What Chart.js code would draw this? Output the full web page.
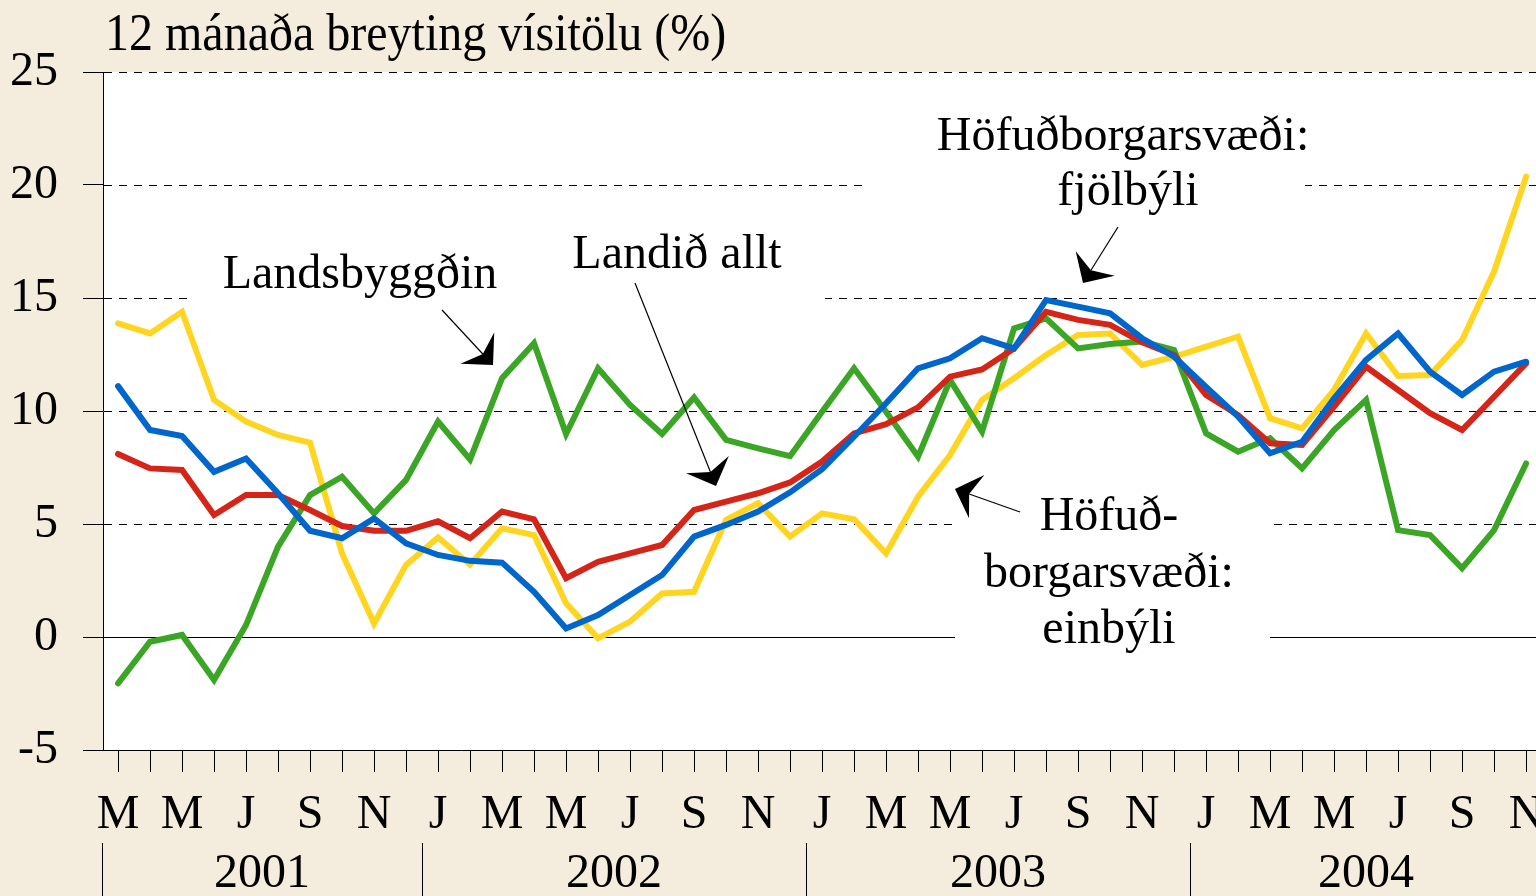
<!DOCTYPE html>
<html>
<head>
<meta charset="utf-8">
<script src="https://cdn.jsdelivr.net/npm/chart.js@4/dist/chart.umd.min.js"></script>
<style>
  html, body { margin: 0; padding: 0; background: #f4ecdc; }
  #wrap { width: 1536px; height: 896px; }
</style>
</head>
<body>
<div id="wrap"><canvas id="chart" width="1536" height="896"></canvas></div>
<script>
// Mar 2001 .. Nov 2004, one value per month
const xLabels = ['M','','M','','J','','S','','N','',
                 'J','','M','','M','','J','','S','','N','',
                 'J','','M','','M','','J','','S','','N','',
                 'J','','M','','M','','J','','S','','N'];
const years      = ['2001', '2002', '2003', '2004'];
const yearStart  = [0, 10, 22, 34];
const yearEnd    = [9, 21, 33, 44];
const yTicks     = [-5, 0, 5, 10, 15, 20, 25];

const fjolbyli = [11.1, 9.16, 8.89, 7.31, 7.9, 6.36, 4.7, 4.37, 5.25, 4.14,
                  3.63, 3.37, 3.29, 2.0, 0.38, 0.97, 1.86, 2.74, 4.44, 4.96, 5.55, 6.4,
                  7.42, 8.86, 10.34, 11.89, 12.33, 13.22, 12.77, 14.91, 14.62, 14.32, 13.22, 12.4,
                  11.07, 9.75, 8.13, 8.64, 10.56, 12.26, 13.43, 11.74, 10.71, 11.74, 12.18];
const landidAllt = [8.1, 7.46, 7.39, 5.4, 6.28, 6.28, 5.62, 4.91, 4.7, 4.7,
                  5.12, 4.37, 5.55, 5.21, 2.6, 3.33, 3.7, 4.07, 5.62, 5.99, 6.36, 6.84,
                  7.76, 9.01, 9.42, 10.16, 11.52, 11.84, 12.77, 14.39, 14.03, 13.81, 13.04, 12.48,
                  10.71, 9.82, 8.57, 8.5, 10.19, 11.96, 10.93, 9.9, 9.16, 10.63, 12.11];
const landsbyggdin = [-2.05, -0.21, 0.09, -1.9, 0.53, 4.0, 6.28, 7.09, 5.47, 6.95,
                  9.53, 7.86, 11.45, 13.0, 8.98, 11.89, 10.27, 8.98, 10.6, 8.72, 8.35, 8.0,
                  9.97, 11.89, 9.97, 7.98, 11.37, 9.09, 13.66, 14.1, 12.77, 12.96, 13.07, 12.7,
                  9.01, 8.2, 8.79, 7.46, 9.16, 10.49, 4.73, 4.51, 3.04, 4.73, 7.68];
const einbyli = [13.88, 13.43, 14.39, 10.49, 9.53, 8.94, 8.6, 3.7, 0.6, 3.19,
                  4.4, 3.2, 4.81, 4.51, 1.49, -0.06, 0.68, 1.93, 2.0, 5.18, 5.92, 4.44,
                  5.47, 5.21, 3.7, 6.21, 8.05, 10.49, 11.45, 12.48, 13.36, 13.43, 12.04, 12.4,
                  12.85, 13.29, 9.68, 9.23, 10.93, 13.43, 11.55, 11.59, 13.14, 16.17, 20.37];

const FONT = '"Liberation Serif", "Times New Roman", serif';
const BG   = '#f4ecdc';

const pts = arr => arr.map((v, i) => ({ x: i, y: v }));

function arrow(ctx, x1, y1, x2, y2) {
    // thin line to a filled "stealth" head whose tip is at (x2, y2)
    const len = Math.hypot(x2 - x1, y2 - y1);
    const ux = (x2 - x1) / len, uy = (y2 - y1) / len;
    const px = -uy, py = ux;
    const nx = x2 - ux * 15, ny = y2 - uy * 15;
    const bx = x2 - ux * 23, by = y2 - uy * 23;
    ctx.beginPath();
    ctx.moveTo(x1, y1);
    ctx.lineTo(nx, ny);
    ctx.lineWidth = 1.2;
    ctx.strokeStyle = '#000';
    ctx.stroke();
    ctx.beginPath();
    ctx.moveTo(x2, y2);
    ctx.lineTo(bx + px * 23, by + py * 23);
    ctx.lineTo(nx, ny);
    ctx.lineTo(bx - px * 23, by - py * 23);
    ctx.closePath();
    ctx.fillStyle = '#000';
    ctx.fill();
}

const deco = {
    id: 'deco',
    beforeDraw(chart) {
        const { ctx, chartArea: a } = chart;
        ctx.save();
        ctx.fillStyle = BG;
        ctx.fillRect(0, 0, chart.width, chart.height);
        ctx.fillStyle = '#fff';
        ctx.fillRect(a.left, a.top, a.right - a.left, a.bottom - a.top);
        ctx.restore();
    },
    beforeDatasetsDraw(chart) {
        const { ctx, chartArea: a, scales } = chart;
        ctx.save();
        ctx.strokeStyle = '#000';
        ctx.lineWidth = 1;
        yTicks.forEach(v => {
            if (v === -5) return;
            const y = Math.round(scales.y.getPixelForValue(v)) + 0.5;
            ctx.setLineDash(v === 0 ? [] : [8, 7]);
            ctx.beginPath();
            ctx.moveTo(a.left + 1, y);
            ctx.lineTo(a.right, y);
            ctx.stroke();
        });
        ctx.setLineDash([]);
        // white boxes behind the series labels
        ctx.fillStyle = '#fff';
        ctx.fillRect(187, 240, 345, 66);
        ctx.fillRect(532, 220, 293, 80);
        ctx.fillRect(865, 100, 440, 130);
        ctx.fillRect(955, 492, 315, 165);
        ctx.restore();
    },
    afterDatasetsDraw(chart) {
        const { ctx } = chart;
        ctx.save();
        ctx.fillStyle = '#000';
        ctx.font = '48px ' + FONT;
        ctx.textAlign = 'center';
        ctx.textBaseline = 'alphabetic';
        ctx.fillText('Landsbyggðin', 360, 288);
        ctx.fillText('Landið allt', 677, 268);
        ctx.fillText('Höfuðborgarsvæði:', 1123, 150);
        ctx.fillText('fjölbýli', 1128, 205);
        ctx.fillText('Höfuð-', 1109, 530);
        ctx.fillText('borgarsvæði:', 1109, 587);
        ctx.fillText('einbýli', 1109, 643);
        arrow(ctx, 442, 310, 493, 365);
        arrow(ctx, 635, 283, 716, 486);
        arrow(ctx, 1118, 227, 1083, 283);
        arrow(ctx, 1020, 512, 955, 489);
        ctx.restore();
    },
    afterDraw(chart) {
        const { ctx, scales } = chart;
        const xs = scales.x;
        ctx.save();
        ctx.fillStyle = '#000';
        ctx.strokeStyle = '#000';
        ctx.lineWidth = 1;
        ctx.font = '48px ' + FONT;
        ctx.textAlign = 'center';
        ctx.textBaseline = 'alphabetic';
        years.forEach((yr, i) => {
            const l = xs.getPixelForValue(yearStart[i] - 0.5);
            const r = xs.getPixelForValue(yearEnd[i] + 0.5);
            const sx = Math.round(l) + 0.5;
            ctx.beginPath();
            ctx.moveTo(sx, 843);
            ctx.lineTo(sx, 896);
            ctx.stroke();
            ctx.fillText(yr, (l + r) / 2, 887);
        });
        // title, slightly tall like the original
        ctx.textAlign = 'left';
        ctx.scale(1, 1.08);
        ctx.fillText('12 mánaða breyting vísitölu (%)', 105, 50 / 1.08);
        ctx.restore();
    }
};

new Chart(document.getElementById('chart'), {
    type: 'line',
    data: {
        datasets: [
            { label: 'Höfuðborgarsvæði: fjölbýli', data: pts(fjolbyli),     borderColor: '#0066cc' },
            { label: 'Landið allt',                data: pts(landidAllt),   borderColor: '#d42518' },
            { label: 'Landsbyggðin',               data: pts(landsbyggdin), borderColor: '#3ba526' },
            { label: 'Höfuðborgarsvæði: einbýli',  data: pts(einbyli),      borderColor: '#ffd522' },
        ]
    },
    options: {
        responsive: false,
        animation: false,
        layout: { padding: { top: 72, left: 0, right: 0, bottom: 0 } },
        elements: {
            point: { radius: 0 },
            line:  { borderWidth: 6, tension: 0, fill: false, borderJoinStyle: 'miter', borderCapStyle: 'round' }
        },
        plugins: { legend: { display: false }, tooltip: { enabled: false } },
        scales: {
            x: {
                type: 'linear',
                min: -0.47,
                max: 44.31,
                afterBuildTicks: s => { s.ticks = xLabels.map((_, i) => ({ value: i })); },
                afterFit: s => { s.height = 146; s.paddingLeft = 0; s.paddingRight = 0; },
                grid:   { drawOnChartArea: false, drawTicks: true, tickLength: 22, color: '#000', lineWidth: 1 },
                border: { display: true, color: '#000', width: 1 },
                ticks:  { autoSkip: false, maxRotation: 0, padding: 15, color: '#000',
                          font: { family: FONT, size: 48 },
                          callback: v => xLabels[Math.round(v)] }
            },
            y: {
                min: -5,
                max: 25,
                afterBuildTicks: s => { s.ticks = yTicks.map(v => ({ value: v })); },
                afterFit: s => { s.width = 103; s.paddingTop = 0; s.paddingBottom = 0; },
                grid:   { drawOnChartArea: false, drawTicks: true, tickLength: 20, color: '#000', lineWidth: 1 },
                border: { display: true, color: '#000', width: 1 },
                ticks:  { padding: 25, color: '#000', font: { family: FONT, size: 48 } }
            }
        }
    },
    plugins: [deco]
});
</script>
</body>
</html>
